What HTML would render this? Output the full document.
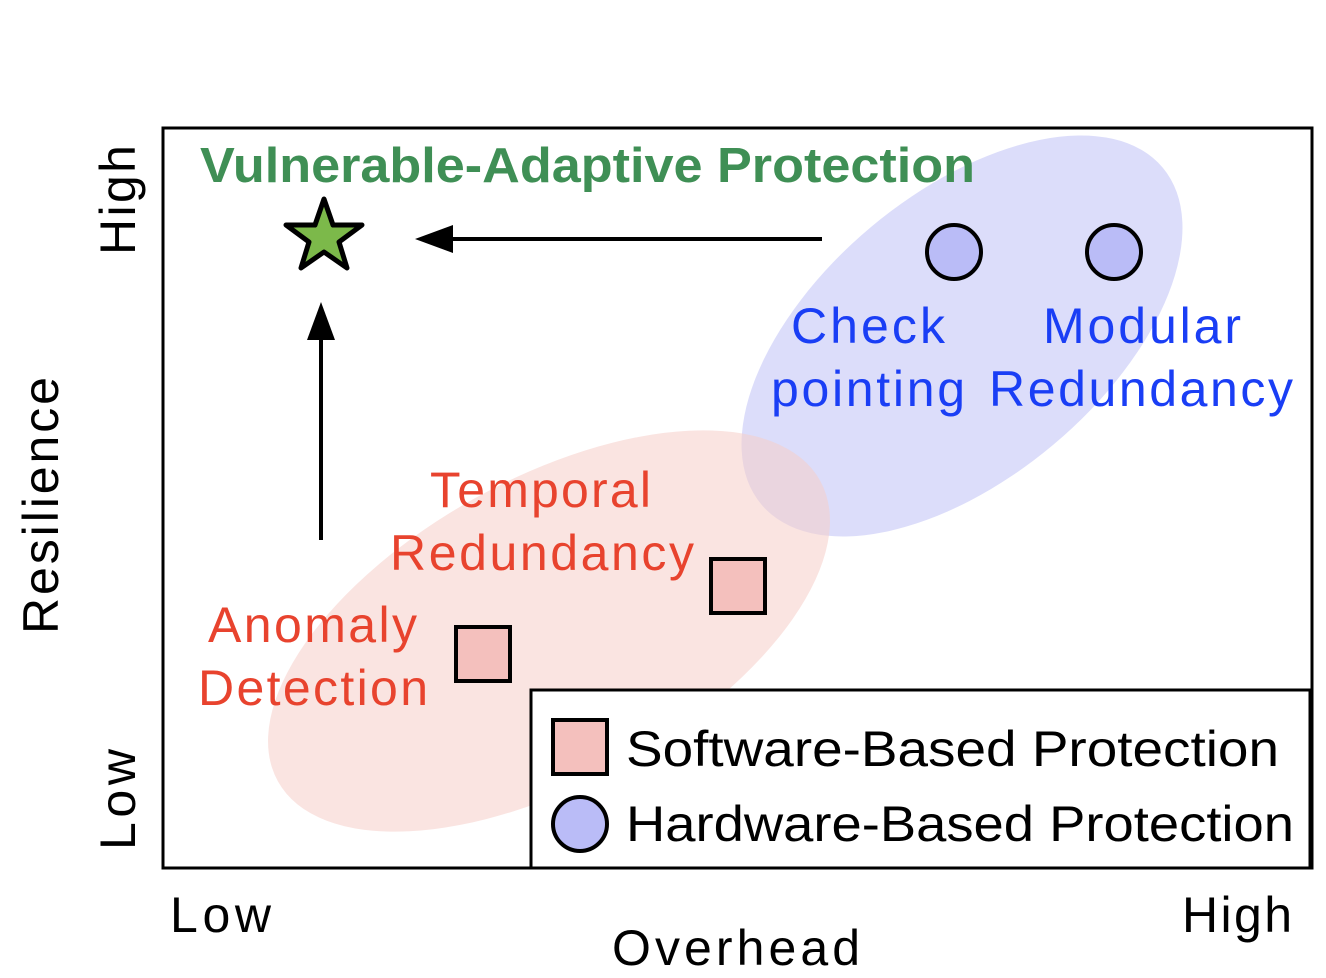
<!DOCTYPE html>
<html><head><style>body{margin:0;background:#fff}svg{display:block}</style></head><body>
<svg width="1326" height="978" viewBox="0 0 1326 978" xmlns="http://www.w3.org/2000/svg" font-family="Liberation Sans, Arial, sans-serif">
<rect x="163" y="128" width="1149" height="740" fill="#fff" stroke="#000" stroke-width="3"/>
<ellipse cx="962" cy="336" rx="262" ry="142" transform="rotate(-40 962 336)" fill="#c9cbf8" opacity="0.65"/>
<ellipse cx="549" cy="631" rx="310" ry="152" transform="rotate(-29 549 631)" fill="#f6cdc8" opacity="0.55"/>
<text x="200" y="182" font-size="49" font-weight="bold" fill="#3f8f55" textLength="775" lengthAdjust="spacingAndGlyphs">Vulnerable-Adaptive Protection</text>
<polygon points="324,199 333,225 362,225 339,242 347,268 324,252 301,268 309,242 286,225 315,225" fill="#7cb94a" stroke="#000" stroke-width="5" stroke-linejoin="round"/>
<line x1="822" y1="239" x2="450" y2="239" stroke="#000" stroke-width="4"/>
<polygon points="415,239 453,225 453,253" fill="#000"/>
<line x1="321" y1="540" x2="321" y2="335" stroke="#000" stroke-width="4"/>
<polygon points="321,302 307,340 335,340" fill="#000"/>
<circle cx="954" cy="252" r="27" fill="#babcf7" stroke="#000" stroke-width="4"/>
<circle cx="1114" cy="252" r="27" fill="#babcf7" stroke="#000" stroke-width="4"/>
<rect x="456" y="627" width="54" height="54" fill="#f4c0bd" stroke="#000" stroke-width="4"/>
<rect x="711" y="559" width="54" height="54" fill="#f4c0bd" stroke="#000" stroke-width="4"/>
<g font-size="50" fill="#1a3ef5" lengthAdjust="spacingAndGlyphs">
<text x="791" y="343" textLength="154">Check</text>
<text x="771" y="406" textLength="194">pointing</text>
<text x="1043" y="343" textLength="198">Modular</text>
<text x="989" y="406" textLength="304">Redundancy</text>
</g>
<g font-size="50" fill="#e8432e">
<text x="430" y="507" textLength="221">Temporal</text>
<text x="390" y="570" textLength="304">Redundancy</text>
<text x="208" y="642" textLength="209">Anomaly</text>
<text x="198" y="705" textLength="230">Detection</text>
</g>
<rect x="531" y="690" width="779" height="178" fill="#fff" stroke="#000" stroke-width="3"/>
<rect x="553" y="720" width="54" height="54" fill="#f4c0bd" stroke="#000" stroke-width="4"/>
<circle cx="580" cy="824" r="27" fill="#babcf7" stroke="#000" stroke-width="4"/>
<g font-size="50" fill="#000">
<text x="626" y="766" textLength="653" lengthAdjust="spacingAndGlyphs">Software-Based Protection</text>
<text x="626" y="841" textLength="668" lengthAdjust="spacingAndGlyphs">Hardware-Based Protection</text>
<text x="170" y="932" textLength="101">Low</text>
<text x="1182" y="932" textLength="110">High</text>
<text x="612" y="965" textLength="248">Overhead</text>
<text transform="translate(135 255) rotate(-90)" textLength="110">High</text>
<text transform="translate(135 850) rotate(-90)" textLength="101">Low</text>
<text transform="translate(58 634) rotate(-90)" textLength="257">Resilience</text>
</g>
</svg>
</body></html>
